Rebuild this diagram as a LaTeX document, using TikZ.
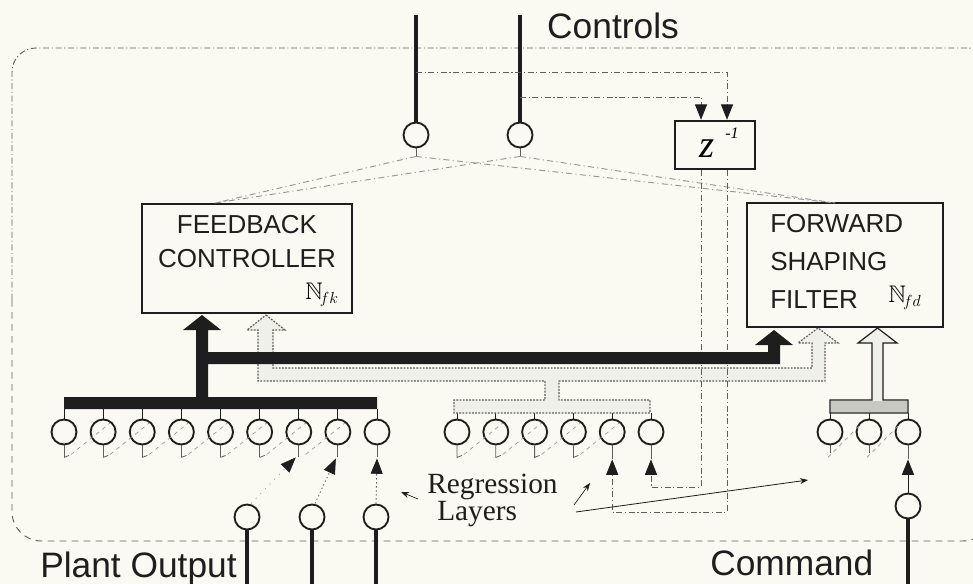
\documentclass[tikz,border=0pt]{standalone}
\usepackage{amssymb}
\usepackage{fontspec}
\setmainfont{Liberation Sans}
\newfontfamily\serifface{Liberation Serif}
\usetikzlibrary{arrows.meta,calc}
\definecolor{paper}{RGB}{250,250,243}
\definecolor{ink}{RGB}{30,30,30}
\definecolor{dim}{RGB}{95,95,95}
\definecolor{pale}{RGB}{150,150,150}
\definecolor{hollowfill}{RGB}{240,240,234}
\definecolor{barfill}{RGB}{200,200,194}
\begin{document}
\begin{tikzpicture}[x=0.75pt,y=-0.75pt,
  neuron/.style={circle,draw=ink,line width=1.4pt,minimum size=18.75pt,inner sep=0pt},
  blockbox/.style={draw=ink,line width=2.1pt,inner sep=0pt},
  boxtxt/.style={font=\fontsize{19.5}{20}\selectfont,text=ink,inner sep=0pt},
  biglbl/.style={font=\fontsize{26.5}{28}\selectfont,text=ink,inner sep=0pt},
  reglbl/.style={font=\serifface\fontsize{22}{24}\selectfont,text=ink,inner sep=0pt},
  wire/.style={draw=ink,line width=2.3pt},
  tap/.style={draw=ink,line width=0.7pt},
  stub/.style={draw=dim,line width=0.6pt},
  tapdash/.style={draw=pale,line width=0.5pt,dash pattern=on 3pt off 3pt},
  dashdot/.style={draw=dim,line width=0.7pt,dash pattern=on 4.5pt off 2pt on 0.8pt off 2pt},
  sumdash/.style={draw=pale,line width=0.7pt,dash pattern=on 4.5pt off 2.5pt on 0.8pt off 2.5pt},
  dotln/.style={draw=dim,line width=0.6pt,dash pattern=on 1pt off 2pt},
  tipfill/.style={-{Triangle[width=9pt,length=11.5pt,color=ink]}},
  smalltip/.style={-{Stealth[width=4.5pt,length=6pt,color=ink]}},
]
\fill[paper] (0,0) rectangle (973,584);
\useasboundingbox (0,0) rectangle (973,584);

% outer frame
\draw[dashdot,rounded corners=18pt] (12,300) -- (12,48) -- (992,48) -- (992,300);
\draw[draw=dim,line width=0.7pt,dash pattern=on 5pt off 4pt,rounded corners=22pt] (12,300) -- (12,541) -- (992,541) -- (992,300);

% controls
\node[neuron] (c1) at (416,135) {};
\node[neuron] (c2) at (520,135) {};
\coordinate (c1top) at (416,15);
\coordinate (c2top) at (520,15);
\draw[wire] (c1top) -- (c1.north);
\draw[wire] (c2top) -- (c2.north);
\node[biglbl] (ctl) at (613,26) {Controls};

% z^-1 box
\node[blockbox,line width=1.8pt,minimum width=60pt,minimum height=36pt] (zb) at (715,145) {};
\node[font=\serifface\itshape\fontsize{29}{29}\selectfont,inner sep=0pt] (zt) at (707,149) {z};
\node[font=\serifface\itshape\fontsize{12}{12}\selectfont,inner sep=0pt] (zs) at (732,133) {-1};
\coordinate (zinA) at ($(zb.north)+(-14,0)$);
\coordinate (zinB) at ($(zb.north)+(12,0)$);
\coordinate (zoutA) at ($(zb.south)+(-14,0)$);
\coordinate (zoutB) at ($(zb.south)+(12,0)$);
\coordinate (br1) at (416,72);
\coordinate (br2) at (520,97);
\draw[dashdot,tipfill] (br1) -| (zinB);
\draw[dashdot,tipfill] (br2) -| (zinA);

% blocks
\node[blockbox,minimum width=157.5pt,minimum height=81.75pt] (fb) at (247,258.5) {};
\node[boxtxt] (fb1) at (247,225) {FEEDBACK};
\node[boxtxt] (fb2) at (247,259) {CONTROLLER};
\node[font=\fontsize{18}{18}\selectfont,inner sep=0pt] (fbn) at (322,295) {$\mathbb{N}_{\!fk}$};
\node[blockbox,minimum width=147pt,minimum height=93pt] (fw) at (845,265) {};
\node[boxtxt,anchor=west] (fw1) at (770,224) {FORWARD};
\node[boxtxt,anchor=west] (fw2) at (770,262) {SHAPING};
\node[boxtxt,anchor=west] (fw3) at (770,300) {FILTER};
\node[font=\fontsize{18}{18}\selectfont,inner sep=0pt] (fwn) at (905,298) {$\mathbb{N}_{\!fd}$};

% summation links
\coordinate (fbin) at (215,203);
\coordinate (fwin) at (835,203);
\draw[stub] (c1.south) -- ++(0,8) coordinate (c1o);
\draw[stub] (c2.south) -- ++(0,8) coordinate (c2o);
\draw[sumdash] (c1o) -- (fbin);
\draw[sumdash] (c1o) -- (fwin);
\draw[sumdash] (c2o) -- (fbin);
\draw[sumdash] (c2o) -- (fwin);

% neurons of the regression layers
\foreach \i in {1,...,9}{
  \pgfmathsetmacro{\xx}{64+39.125*(\i-1)}
  \node[neuron] (L\i) at (\xx,432) {};
  \draw[tap] (L\i.north) -- (\xx,409);
  \draw[stub] (L\i.south) -- ++(0,12);
}
\foreach \i in {1,...,6}{
  \pgfmathsetmacro{\xx}{457+38.8*(\i-1)}
  \node[neuron] (M\i) at (\xx,432) {};
  \draw[tap] (M\i.north) -- (\xx,413);
}
\foreach \i/\xx in {1/830,2/869,3/908}{
  \node[neuron] (R\i) at (\xx,432) {};
  \draw[tap] (R\i.north) -- (\xx,413);
}
\foreach \i in {1,...,6}{ \draw[stub] ($(L\i.south)+(0,12)$) -- ++(5,-2); }
\foreach \i in {1,...,4}{ \draw[stub] (M\i.south) -- ++(0,12) -- ++(5,-2); }
\draw[stub] (M5.south) -- ++(0,14);
\draw[stub] (M6.south) -- ++(0,14);
\draw[stub] (R1.south) -- ++(0,8);
\draw[stub] (R2.south) -- ++(0,8);
\draw[stub] (R3.south) -- ++(0,14);
\foreach \i in {1,...,7}{
  \pgfmathtruncatemacro{\j}{\i+1}
  \draw[tapdash] ($(L\i.south)+(7,9)$) -- ($(L\j.center)+(7,-9)$);
}
\foreach \i in {1,...,4}{
  \pgfmathtruncatemacro{\j}{\i+1}
  \draw[tapdash] ($(M\i.south)+(7,9)$) -- ($(M\j.center)+(7,-9)$);
}
\draw[tapdash] ($(R1.south)+(-2,12)$) -- ($(R2.center)+(-9,-7)$);
\draw[tapdash] ($(R2.south)+(-2,12)$) -- ($(R3.center)+(-9,-7)$);

% hollow bus
\filldraw[fill=hollowfill,draw=dim,line width=0.9pt,dash pattern=on 1.4pt off 1pt]
  (266,315) -- (285,330) -- (273,330) -- (273,368) -- (812,368) -- (812,343) -- (798,343)
  -- (818,328) -- (838,343) -- (825,343) -- (825,381) -- (559,381) -- (559,400) -- (650,400)
  -- (650,413) -- (454,413) -- (454,400) -- (545,400) -- (545,381) -- (258,381) -- (258,330)
  -- (247,330) -- cycle;
% command bus
\filldraw[fill=hollowfill,draw=ink,line width=0.9pt]
  (877.5,328) -- (897,343) -- (883,343) -- (883,400) -- (908,400) -- (908,413) -- (830,413)
  -- (830,400) -- (872,400) -- (872,343) -- (858,343) -- cycle;
\fill[barfill] (831,401) rectangle (907,412);

% delayed controls into the middle layer
\draw[dashdot,tipfill] (zoutA) -- (701,487) -| ($(M6.south)+(0,14)$);
\draw[dashdot,tipfill] (zoutB) -- (727,512) -| ($(M5.south)+(0,14)$);

% black bus
\fill[ink] (202,315) -- (221,330) -- (208,330) -- (208,352) -- (768,352) -- (768,345) -- (755,345)
  -- (774,330) -- (793,345) -- (780,345) -- (780,364) -- (208,364) -- (208,397) -- (377,397)
  -- (377,409) -- (64,409) -- (64,397) -- (196,397) -- (196,330) -- (183,330) -- cycle;

% plant outputs and command
\node[neuron] (p1) at (247,517) {};
\node[neuron] (p2) at (312,517) {};
\node[neuron] (p3) at (376,517) {};
\node[neuron] (cmd) at (908,506) {};
\coordinate (p1b) at (247,584);
\coordinate (p2b) at (312,584);
\coordinate (p3b) at (376,584);
\coordinate (cmdb) at (908,584);
\draw[wire] (p1.south) -- (p1b);
\draw[wire] (p2.south) -- (p2b);
\draw[wire] (p3.south) -- (p3b);
\draw[wire] (cmd.south) -- (cmdb);
\draw[draw=pale,line width=0.4pt,dash pattern=on 1pt off 4pt,tipfill] ($(p1.north)+(4,0)$) -- ($(L7.south)+(-3,12)$);
\draw[dotln,tipfill] ($(p2.north)+(3,0)$) -- ($(L8.south)+(-2,13)$);
\draw[dotln,tipfill] (p3.north) -- ($(L9.south)+(0,13)$);
\draw[tap,tipfill] (cmd.north) -- ($(R3.south)+(0,14)$);

% labels
\node[biglbl,anchor=base west] (plant) at (40,577) {Plant Output};
\node[biglbl,anchor=base west] (cmdl) at (710,575) {Command};
\node[reglbl,anchor=base west] (reg) at (427,493) {Regression};
\node[reglbl,anchor=base west] (lay) at (437,520) {Layers};
\draw[draw=ink,line width=0.5pt,smalltip] (418,499) -- (401,492);
\draw[draw=ink,line width=0.5pt,smalltip] (574,505) -- (590,483);
\draw[draw=ink,line width=0.6pt,smalltip] (576,512) -- (808,480);
\end{tikzpicture}
\end{document}
